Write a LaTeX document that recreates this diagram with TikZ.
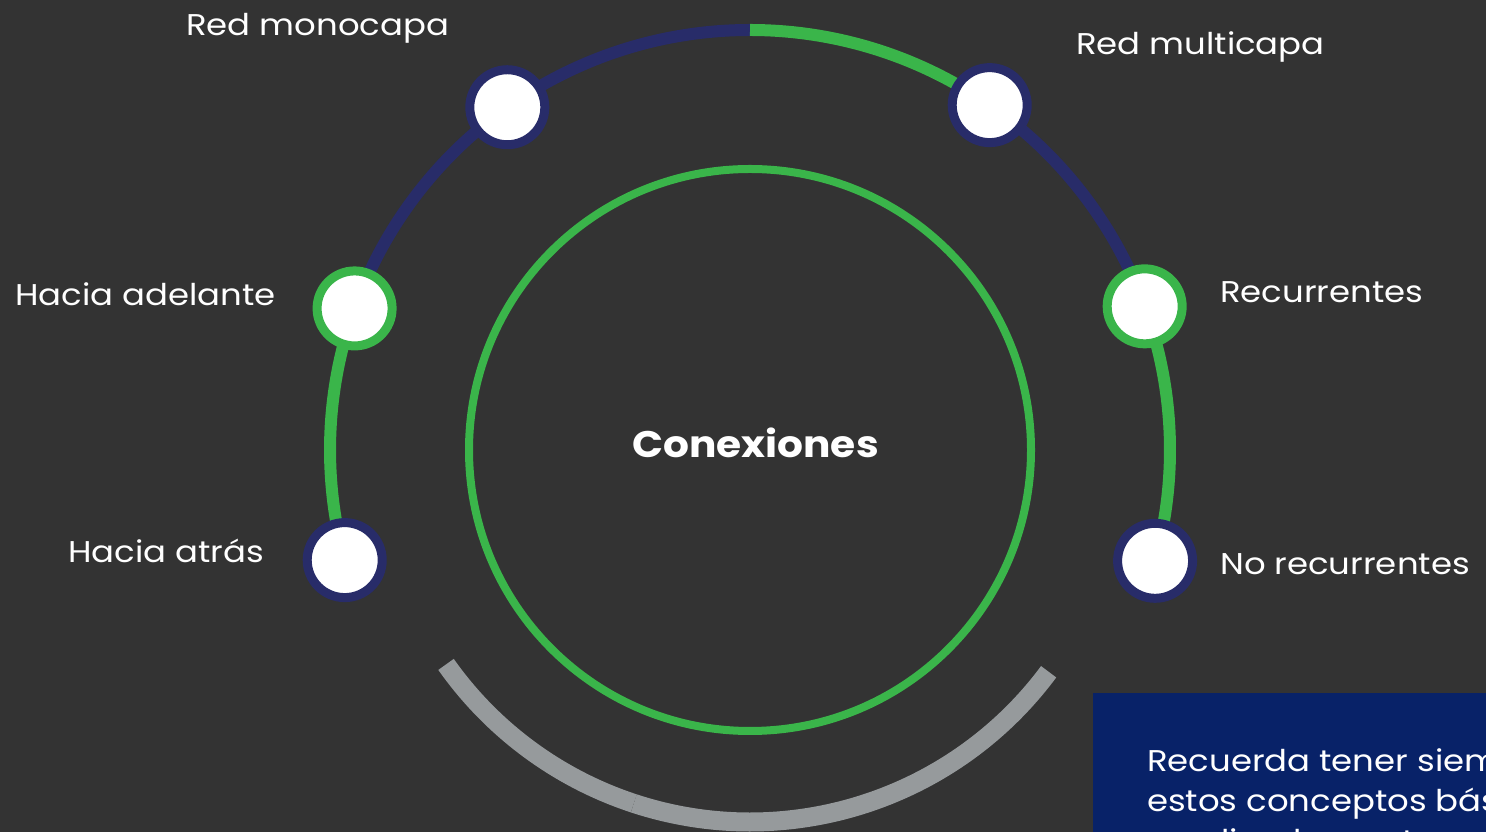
\documentclass[tikz,border=0pt]{standalone}
\usepackage{fontspec}
\setmainfont{Poppins}
\newfontfamily\labfont{Poppins}[FakeStretch=1.13]
\definecolor{bg}{RGB}{51,51,51}
\definecolor{gr}{RGB}{58,181,74}
\definecolor{nv}{RGB}{40,44,105}
\definecolor{gy}{RGB}{150,154,156}
\definecolor{bx}{RGB}{8,34,104}
\tikzset{
  dot/.style={circle,fill=white,draw=#1,line width=9,minimum size=75,inner sep=0},
  lab/.style={anchor=base west,text=white,inner sep=0,font=\labfont\fontsize{30}{36}\selectfont},
  ring/.style={line width=12},
}
\begin{document}
\begin{tikzpicture}[x=1pt,y=1pt]
\useasboundingbox (0,0) rectangle (1486,832);
\clip (0,0) rectangle (1486,832);
\fill[bg] (0,0) rectangle (1486,832);
\coordinate (c) at (750,382);
% inner circle
\draw[gr,line width=8] (c) circle[radius=281];
\node[anchor=base,text=white,inner sep=0,font=\bfseries\fontsize{37}{44}\selectfont] (title) at (755.5,374) {\addfontfeatures{FakeStretch=1.1}Conexiones};
% outer arcs
\draw[nv,ring] ([shift={(90:420)}]c) arc[start angle=90,end angle=160.3,radius=420];
\draw[gr,ring] ([shift={(160.3:420)}]c) arc[start angle=160.3,end angle=195.2,radius=420];
\draw[gr,ring] ([shift={(90:420)}]c) arc[start angle=90,end angle=55.2,radius=420];
\draw[nv,ring] ([shift={(55.2:420)}]c) arc[start angle=55.2,end angle=20,radius=420];
\draw[gr,ring] ([shift={(20:420)}]c) arc[start angle=20,end angle=-15.3,radius=420];
% bottom gray arc
\draw[gy,line width=19] ([shift={(215.2:372)}]c) arc[start angle=215.2,end angle=251.8,radius=372];
\draw[gy,line width=19] ([shift={(251.8:372)}]c) arc[start angle=251.8,end angle=323.4,radius=372];
% nodes
\node[dot=nv] (mono) at ([shift={(125.3:420)}]c) {};
\node[dot=nv] (multi) at ([shift={(55.2:420)}]c) {};
\node[dot=gr] (adel) at ([shift={(160.3:420)}]c) {};
\node[dot=gr] (rec) at ([shift={(20:420)}]c) {};
\node[dot=nv] (atr) at ([shift={(195.2:420)}]c) {};
\node[dot=nv] (norec) at ([shift={(-15.3:420)}]c) {};
% labels
\node[lab] (lmono) at (186,796) {Red monocapa};
\node[lab] (lmulti) at (1076,777) {Red multicapa};
\node[lab] (ladel) at (15,526) {Hacia adelante};
\node[lab] (latr) at (68,269) {Hacia atrás};
\node[lab] (lrec) at (1220,529) {Recurrentes};
\node[lab] (lnorec) at (1220,257) {No recurrentes};
% note box
\fill[bx] (1093,0) rectangle (1600,139);
\node[lab] (n1) at (1147,60) {Recuerda tener siempre presentes};
\node[lab] (n2) at (1147,20) {estos conceptos básicos para};
\node[lab] (n3) at (1147,-20) {y aplicarlos en tus modelos};
\end{tikzpicture}
\end{document}
